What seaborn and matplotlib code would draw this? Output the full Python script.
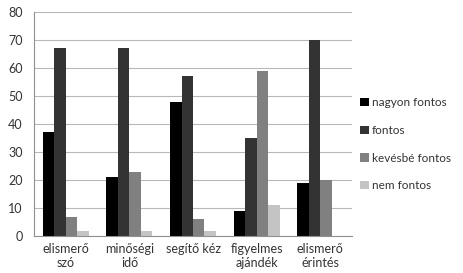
import pandas as pd
import matplotlib
matplotlib.use('Agg')
import matplotlib.pyplot as plt
import seaborn as sns

# Data
categories = ['elismerő\nszó', 'minőségi\nidő', 'segítő kéz', 'figyelmes\najándék', 'elismerő\nérintés']
series = ['nagyon fontos', 'fontos', 'kevésbé fontos', 'nem fontos']
nagyon_fontos = [37, 21, 48, 9, 19]
fontos = [67, 67, 57, 35, 70]
kevesbe_fontos = [7, 23, 6, 59, 20]
nem_fontos = [2, 2, 2, 11, 0]
colors = ['#000000', '#333333', '#808080', '#c4c4c4']

rows = []
for s, vals in zip(series, [nagyon_fontos, fontos, kevesbe_fontos, nem_fontos]):
    for c, v in zip(categories, vals):
        rows.append({'kat': c, 'sor': s, 'ertek': v})
df = pd.DataFrame(rows)

sns.set_style('white')
plt.rcParams['font.family'] = ['Lato', 'DejaVu Sans']

fig = plt.figure(figsize=(4.64, 2.73), dpi=100)
ax = fig.add_axes([0.073, 0.135, 0.686, 0.821])

sns.barplot(data=df, x='kat', y='ertek', hue='sor', order=categories, hue_order=series,
            palette=colors, width=0.72, gap=0, saturation=1, ax=ax, linewidth=0)

ax.set_ylim(0, 80)
ax.set_xlim(-0.5, len(categories) - 0.5)
ax.set_yticks(range(0, 81, 10))
ax.yaxis.grid(True, color='#b8b8b8', linewidth=0.8)
ax.set_axisbelow(True)
ax.set_xlabel('')
ax.set_ylabel('')
for side in ['top', 'right']:
    ax.spines[side].set_visible(False)
ax.spines['left'].set_color('#909090')
ax.spines['bottom'].set_color('#909090')

ax.tick_params(axis='y', length=0, labelsize=9, colors='#333333', pad=8)
ax.tick_params(axis='x', length=0, labelsize=9, colors='#333333', pad=5)
ax.set_xticks([i - 0.5 for i in range(len(categories) + 1)], minor=True)
ax.tick_params(axis='x', which='minor', length=4, color='#909090')

ax.legend(loc='center left', bbox_to_anchor=(1.0, 0.41), frameon=False, fontsize=8.5,
          handlelength=0.7, handleheight=0.7, handletextpad=0.25, labelspacing=1.4,
          labelcolor='#333333', borderaxespad=0.3)

fig.savefig('out.png', dpi=100)
